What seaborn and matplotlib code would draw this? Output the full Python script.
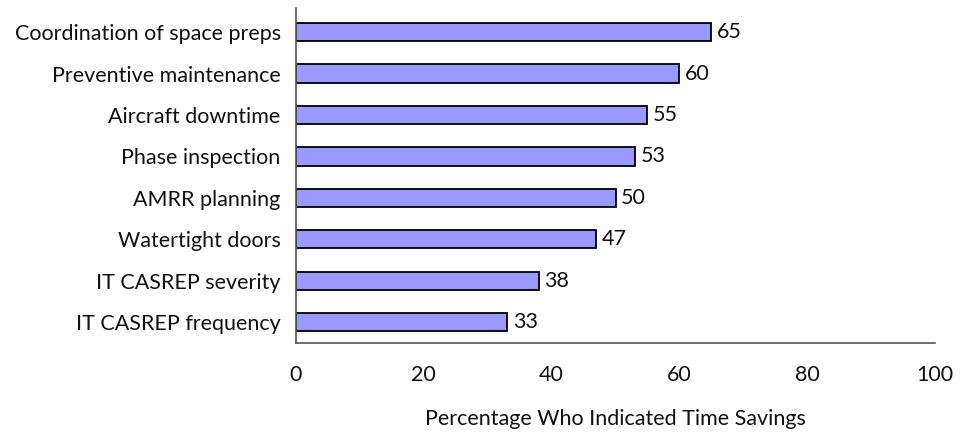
import matplotlib
matplotlib.use("Agg")
import matplotlib.pyplot as plt
import seaborn as sns
import pandas as pd

categories = [
    "Coordination of space preps",
    "Preventive maintenance",
    "Aircraft downtime",
    "Phase inspection",
    "AMRR planning",
    "Watertight doors",
    "IT CASREP severity",
    "IT CASREP frequency",
]
values = [65, 60, 55, 53, 50, 47, 38, 33]
x_ticks = [0, 20, 40, 60, 80, 100]

df = pd.DataFrame({"task": categories, "pct": values})

sns.set_theme(style="white")
plt.rcParams["font.family"] = ["Lato", "DejaVu Sans"]

FS = 15.5
fig = plt.figure(figsize=(9.6, 4.33), dpi=100)
ax = fig.add_axes([0.3083, 0.2079, 0.6657, 0.7736])

sns.barplot(data=df, x="pct", y="task", orient="h", color="#9999FF",
            saturation=1, edgecolor="black", linewidth=1.3, width=0.44, ax=ax)

for i, v in enumerate(values):
    ax.text(v + 0.9, i, f"{v}", va="center", ha="left", fontsize=FS, color="#111111")

ax.set_xlim(0, 100)
ax.set_ylim(7.5, -0.58)
ax.set_xticks(x_ticks)
ax.set_xticklabels([str(t) for t in x_ticks], fontsize=FS, color="#111111")
ax.tick_params(axis="x", length=0, pad=16)
ax.tick_params(axis="y", length=0, pad=11, labelsize=FS, labelcolor="#111111")
ax.set_ylabel("")
ax.set_xlabel("Percentage Who Indicated Time Savings", fontsize=FS, color="#111111", labelpad=17)

for s in ["top", "right"]:
    ax.spines[s].set_visible(False)
for s in ["left", "bottom"]:
    ax.spines[s].set_color("#555555")
    ax.spines[s].set_linewidth(1.2)

fig.savefig("out.png", dpi=100)
